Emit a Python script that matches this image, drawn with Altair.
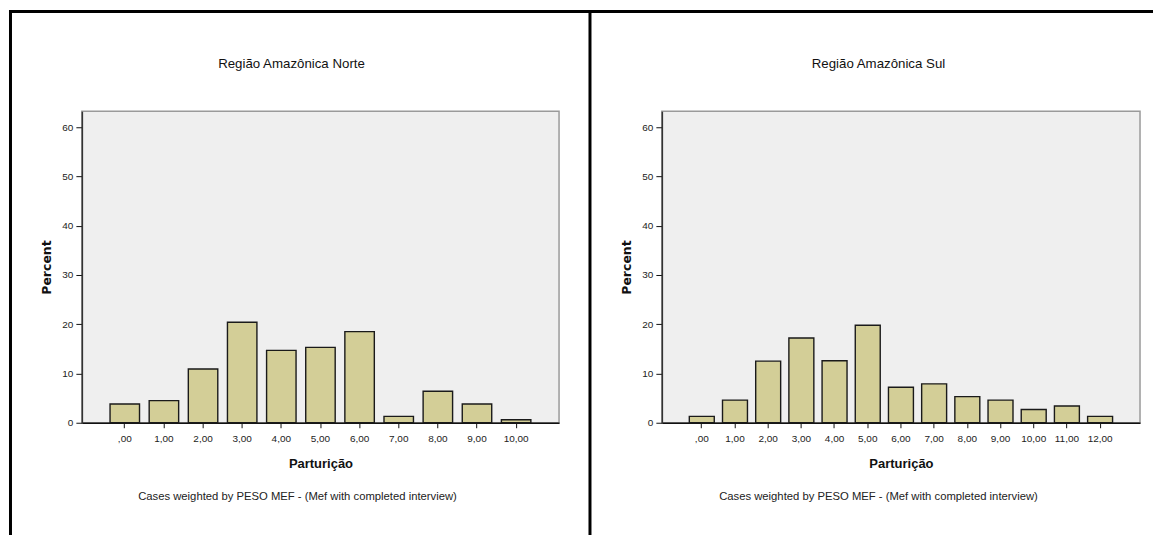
import altair as alt
import pandas as pd

# ---- data ----
cats_norte = [",00", "1,00", "2,00", "3,00", "4,00", "5,00", "6,00", "7,00", "8,00", "9,00", "10,00"]
pct_norte = [3.8, 4.5, 10.9, 20.4, 14.7, 15.3, 18.5, 1.3, 6.4, 3.8, 0.6]

cats_sul = [",00", "1,00", "2,00", "3,00", "4,00", "5,00", "6,00", "7,00", "8,00", "9,00", "10,00", "11,00", "12,00"]
pct_sul = [1.3, 4.6, 12.5, 17.2, 12.6, 19.8, 7.2, 7.9, 5.3, 4.6, 2.7, 3.4, 1.3]

panel_titles = ["Região Amazônica Norte", "Região Amazônica Sul"]
x_title = "Parturição"
y_title = "Percent"
footnote = "Cases weighted by PESO MEF - (Mef with completed interview)"
y_ticks = [0, 10, 20, 30, 40, 50, 60]

BAR_FILL = "#d3ce97"
FONT = "Liberation Sans"
H = 312
YMAX = 63.24
one = pd.DataFrame({"k": [0]})


def frame_rect(x1, x2, y1, y2):
    return alt.Chart(one).mark_rect(color="#000", strokeWidth=0).encode(
        x=alt.value(x1), x2=alt.value(x2), y=alt.value(y1), y2=alt.value(y2)
    )


def panel(cats, vals, title, width, p_inner, p_outer, frame):
    df = pd.DataFrame({"cat": cats, "pct": vals})
    bars = alt.Chart(df).mark_bar(
        fill=BAR_FILL, stroke="#1a1a1a", strokeWidth=1.4
    ).encode(
        x=alt.X(
            "cat:N", sort=cats,
            scale=alt.Scale(paddingInner=p_inner, paddingOuter=p_outer),
            axis=alt.Axis(
                title=x_title, labelAngle=0, labelFont=FONT, labelFontSize=10,
                labelColor="#222", labelPadding=6, tickSize=5, tickColor="#111",
                domainColor="#111", domainWidth=1.5,
                titleFont=FONT, titleFontSize=13, titleFontWeight="bold",
                titleColor="#111", titleY=41, titleBaseline="middle",
            ),
        ),
        y=alt.Y(
            "pct:Q",
            scale=alt.Scale(domain=[0, YMAX], nice=False, zero=True),
            axis=alt.Axis(
                title=y_title, values=y_ticks, grid=False, labelFont=FONT,
                labelFontSize=10, labelColor="#222", labelPadding=3,
                tickSize=6, tickColor="#111", domainColor="#333", domainWidth=1.5,
                titleFont="DejaVu Sans", titleFontSize=12.5, titleFontWeight="bold",
                titleColor="#111", titleX=-35, titleY=H / 2,
                titleBaseline="middle", titleAngle=270,
            ),
        ),
    )
    ttl = alt.Chart(one).mark_text(
        font=FONT, fontSize=13.3, color="#111", align="center", baseline="middle"
    ).encode(x=alt.value(frame["cx_title"]), y=alt.value(-47), text=alt.value(title))
    note = alt.Chart(one).mark_text(
        font=FONT, fontSize=11.3, color="#222", align="center", baseline="middle"
    ).encode(x=alt.value(frame["cx_note"]), y=alt.value(386), text=alt.value(footnote))
    layers = [bars, ttl, note]
    # top frame line
    layers.append(frame_rect(frame["top_x1"], frame["top_x2"], -101.5, -98.5))
    # vertical frame lines
    for vx in frame["verticals"]:
        layers.append(frame_rect(vx - 1.5, vx + 1.5, -101.5, 424.5))
    return alt.layer(*layers).properties(width=width, height=H)


left = panel(
    cats_norte, pct_norte, panel_titles[0], 478, 0.247, 0.72,
    {"cx_title": 210, "cx_note": 216, "top_x1": -73, "top_x2": 510,
     "verticals": [-71.5, 509]},
)
right = panel(
    cats_sul, pct_sul, panel_titles[1], 479, 0.248, 0.827,
    {"cx_title": 217, "cx_note": 217, "top_x1": -73, "top_x2": 492,
     "verticals": []},
)

chart = alt.hconcat(left, right, spacing=103, bounds="flush").properties(
    padding=0, background="white"
).configure_view(
    fill="#efefef", stroke="#9a9a9a", strokeWidth=1.5
)

chart.save("out.html", embed_options={"renderer": "svg", "actions": False})
